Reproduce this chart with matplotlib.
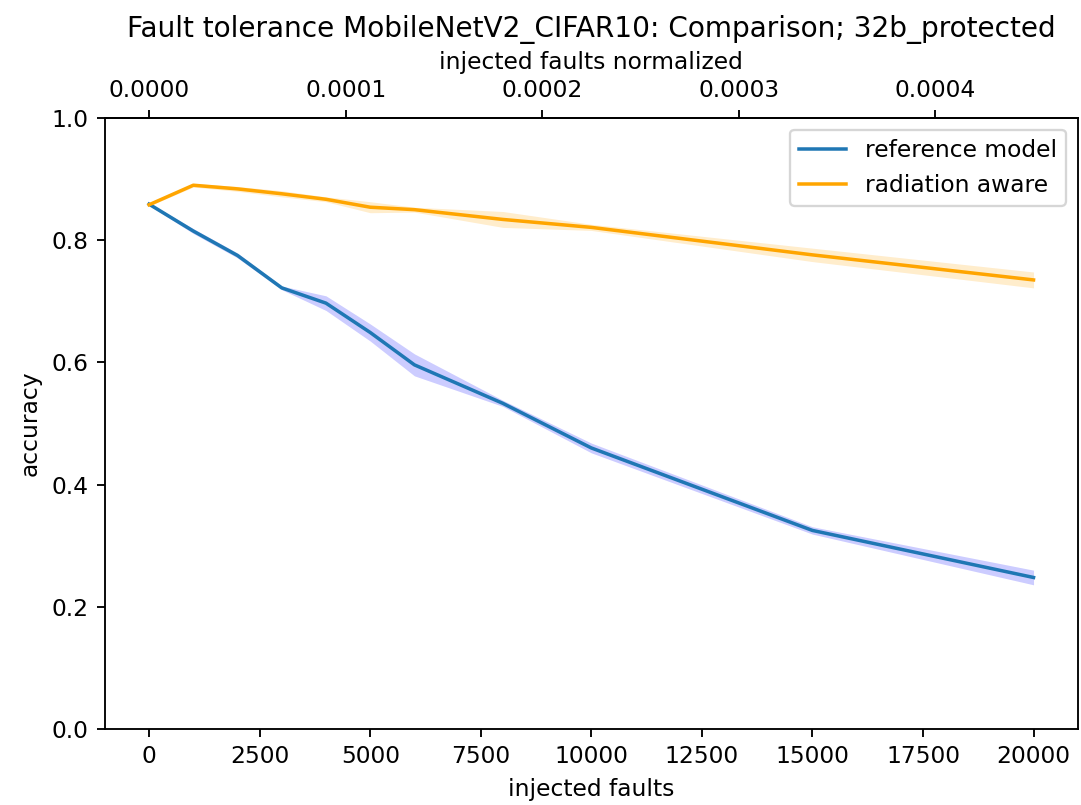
import matplotlib
matplotlib.use("Agg")
import matplotlib.pyplot as plt
import numpy as np

# injected faults and accuracy (mean, std)
faults = [0, 1000, 2000, 3000, 4000, 5000, 6000, 8000, 10000, 15000, 20000]

ref_mean = [0.859, 0.815, 0.775, 0.722, 0.697, 0.649, 0.596, 0.533, 0.460, 0.325, 0.248]
ref_std = [0.002, 0.004, 0.004, 0.003, 0.012, 0.014, 0.018, 0.005, 0.008, 0.006, 0.012]

rad_mean = [0.858, 0.890, 0.884, 0.876, 0.867, 0.854, 0.850, 0.834, 0.821, 0.776, 0.735]
rad_std = [0.002, 0.003, 0.004, 0.005, 0.004, 0.009, 0.004, 0.013, 0.005, 0.011, 0.013]

norm_ticks = [0.0, 0.0001, 0.0002, 0.0003, 0.0004]
n_bits = 44.45e6  # normalisation for the top axis

dpi = 168
fig = plt.figure(figsize=(1081 / dpi, 805 / dpi), dpi=dpi)
ax = fig.add_axes([0.097, 0.0944, 0.9, 0.759])

x = np.array(faults)
rm, rs = np.array(ref_mean), np.array(ref_std)
om, os_ = np.array(rad_mean), np.array(rad_std)

ax.plot(x, rm, color='#1f77b4', label='reference model')
ax.fill_between(x, rm - rs, rm + rs, color='b', alpha=0.2, linewidth=0)
ax.plot(x, om, color='orange', label='radiation aware')
ax.fill_between(x, om - os_, om + os_, color='orange', alpha=0.2, linewidth=0)

ax.set_ylim(0, 1)
ax.set_xlabel('injected faults')
ax.set_ylabel('accuracy')
ax.legend(loc='upper right')

sec = ax.secondary_xaxis('top', functions=(lambda v: v / n_bits, lambda v: v * n_bits))
sec.set_xticks(norm_ticks)
sec.set_xticklabels(['%.4f' % t for t in norm_ticks])
sec.set_xlabel('injected faults normalized')

ax.set_title('Fault tolerance MobileNetV2_CIFAR10: Comparison; 32b_protected')

fig.savefig('out.png', dpi=dpi)
